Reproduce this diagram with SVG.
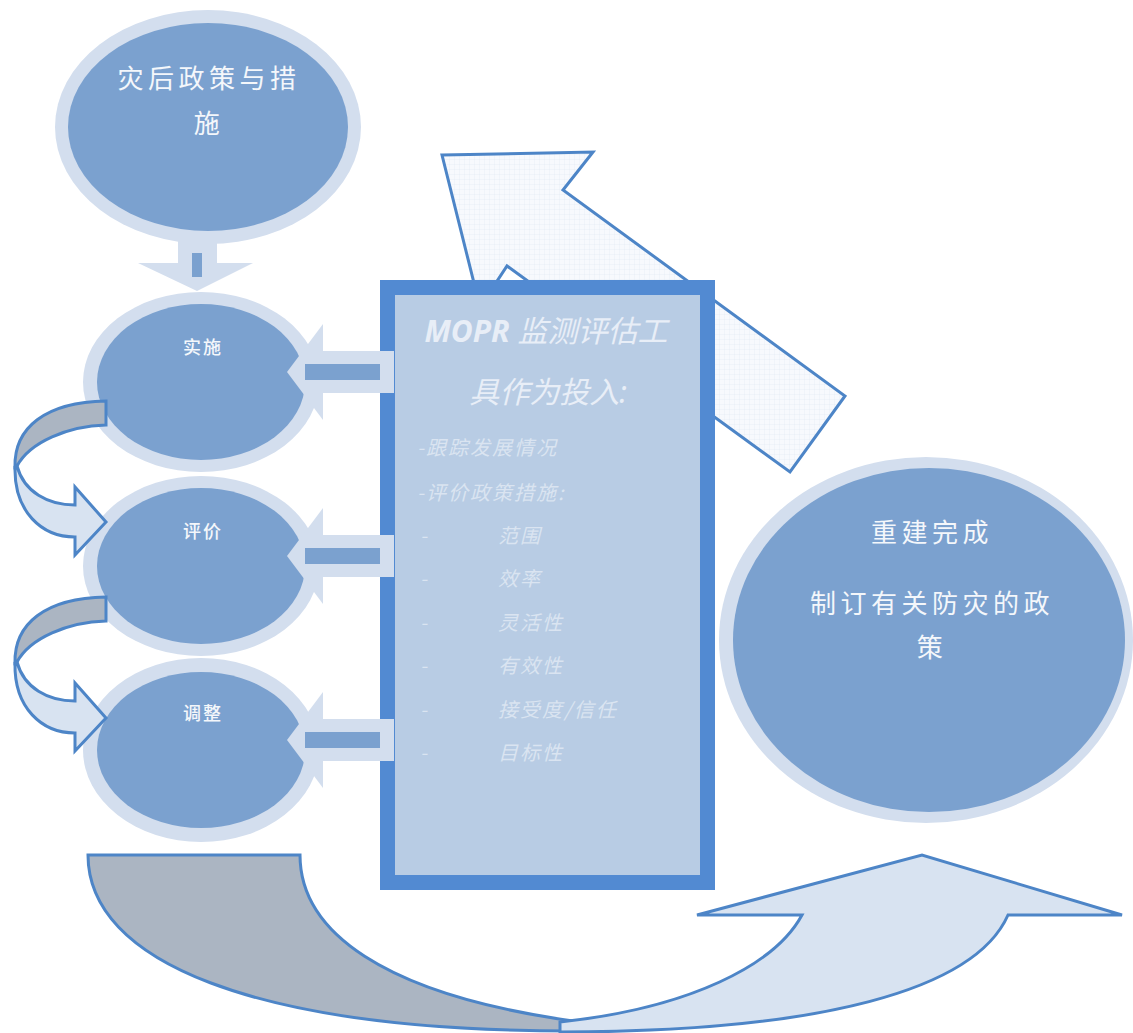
<svg xmlns="http://www.w3.org/2000/svg" width="1133" height="1033" viewBox="0 0 1133 1033">
<defs>
<pattern id="grid" width="5" height="5" patternUnits="userSpaceOnUse">
<rect width="5" height="5" fill="#f7f9fd"/>
<path d="M5 0V5M0 5H5" stroke="#e2e9f4" stroke-width="0.6"/>
</pattern>
<mask id="behindBox" maskUnits="userSpaceOnUse" x="0" y="0" width="1133" height="1033">
<rect width="1133" height="1033" fill="#fff"/>
<rect x="380" y="280" width="335" height="610" fill="#000"/>
</mask>
<style>
.halo{fill:#d3deee}
.core{fill:#7ba1cf}
.lbl{font-family:"Noto Sans CJK SC","Noto Sans",sans-serif;fill:#f4f7fb;text-anchor:middle}
.small{font-size:18px;letter-spacing:2px;font-weight:500}
.big{font-size:26px;letter-spacing:4.5px}
.outl{stroke:#4d85c7;stroke-width:3;stroke-linejoin:miter}
.gray{fill:#abb5c2}
.front{fill:#d8e3f1}
.inarrow{fill:#d3deee}
.bar{fill:#7ba1cf}
.title{font-family:"Noto Sans","Noto Sans CJK SC",sans-serif;font-size:30px;font-style:italic;fill:#e8eef7;text-anchor:middle}
.item{font-family:"Noto Sans CJK SC","Noto Sans",sans-serif;font-size:20px;font-style:italic;fill:#dae4f1;letter-spacing:2px}
</style>
</defs>
<rect width="1133" height="1033" fill="#ffffff"/>

<g id="node-post-disaster">
<ellipse class="halo" cx="208" cy="127" rx="153" ry="117"/>
<ellipse class="core" cx="208" cy="127" rx="140" ry="104"/>
<text class="lbl big" x="209" y="88">灾后政策与措</text>
<text class="lbl big" x="209" y="133">施</text>
</g>

<g id="node-implement">
<ellipse class="halo" cx="201" cy="382" rx="118" ry="90"/>
<ellipse class="core" cx="201" cy="382" rx="104" ry="78"/>
<text class="lbl small" x="203" y="354">实施</text>
</g>

<g id="node-evaluate">
<ellipse class="halo" cx="201" cy="566" rx="118" ry="90"/>
<ellipse class="core" cx="201" cy="566" rx="104" ry="78"/>
<text class="lbl small" x="203" y="538">评价</text>
</g>

<g id="node-adjust">
<ellipse class="halo" cx="201" cy="750" rx="118" ry="92"/>
<ellipse class="core" cx="201" cy="750" rx="104" ry="78"/>
<text class="lbl small" x="203" y="720">调整</text>
</g>

<g id="node-reconstruction">
<ellipse class="halo" cx="926" cy="640" rx="207" ry="183"/>
<ellipse class="core" cx="929" cy="640" rx="196" ry="172"/>
<text class="lbl big" x="932" y="542">重建完成</text>
<text class="lbl big" x="932" y="613">制订有关防灾的政</text>
<text class="lbl big" x="932" y="657">策</text>
</g>

<g id="node-mopr">
<rect x="380" y="280" width="335" height="610" fill="#528ad2"/>
<rect x="395" y="295" width="305" height="580" fill="#b8cce4"/>
<text class="title" x="546" y="342"><tspan font-weight="bold">MOPR</tspan> 监测评估工</text>
<text class="title" x="548" y="403">具作为投入:</text>
<text class="item" x="417" y="455">-跟踪发展情况</text>
<text class="item" x="417" y="500">-评价政策措施:</text>
<text class="item" x="420" y="543">-</text><text class="item" x="498" y="543">范围</text>
<text class="item" x="420" y="586">-</text><text class="item" x="498" y="586">效率</text>
<text class="item" x="420" y="630">-</text><text class="item" x="498" y="630">灵活性</text>
<text class="item" x="420" y="673">-</text><text class="item" x="498" y="673">有效性</text>
<text class="item" x="420" y="717">-</text><text class="item" x="498" y="717">接受度/信任</text>
<text class="item" x="420" y="760">-</text><text class="item" x="498" y="760">目标性</text>
</g>

<g id="connectors">
<polygon mask="url(#behindBox)" points="442,155 593,152 563,190 845,396 790,472 507,266 480,307" fill="url(#grid)" class="outl"/>

<polygon class="inarrow" points="178,236 217,236 217,263 253,263 197,291 138,263 178,263"/>
<rect class="bar" x="192" y="253" width="10" height="24"/>

<g id="arrow-to-implement">
<polygon class="inarrow" points="287,372 323,324 323,351 394,351 394,393 323,393 323,420"/>
<rect class="bar" x="305" y="364" width="75" height="16"/>
</g>
<g id="arrow-to-evaluate">
<polygon class="inarrow" points="287,556 323,508 323,535 394,535 394,577 323,577 323,604"/>
<rect class="bar" x="305" y="548" width="75" height="16"/>
</g>
<g id="arrow-to-adjust">
<polygon class="inarrow" points="287,740 323,692 323,719 394,719 394,761 323,761 323,788"/>
<rect class="bar" x="305" y="732" width="75" height="16"/>
</g>

<g id="curve-implement-evaluate">
<path class="gray outl" d="M106,401 L106,425 C68,426 30,442 17,466 L15,467 C14,428 45,402 106,401 Z"/>
<path class="front outl" d="M15,467 C14,512 42,537 75,537 L75,555 L106,522 L75,487 L75,505 C48,505 24,492 17,466 Z"/>
</g>
<g id="curve-evaluate-adjust" transform="translate(0,196)">
<path class="gray outl" d="M106,401 L106,425 C68,426 30,442 17,466 L15,467 C14,428 45,402 106,401 Z"/>
<path class="front outl" d="M15,467 C14,512 42,537 75,537 L75,555 L106,522 L75,487 L75,505 C48,505 24,492 17,466 Z"/>
</g>

<g id="curve-bottom">
<path class="gray outl" d="M88,855 L300,855 C300,930 380,995 580,1022 L580,1031 C250,1032 88,960 88,855 Z"/>
<path class="front outl" d="M560,1022 C690,1008 775,965 802,915 L697,915 L922,855 L1122,915 L1008,915 C975,990 820,1032 560,1032 Z"/>
</g>
</g>
</svg>
